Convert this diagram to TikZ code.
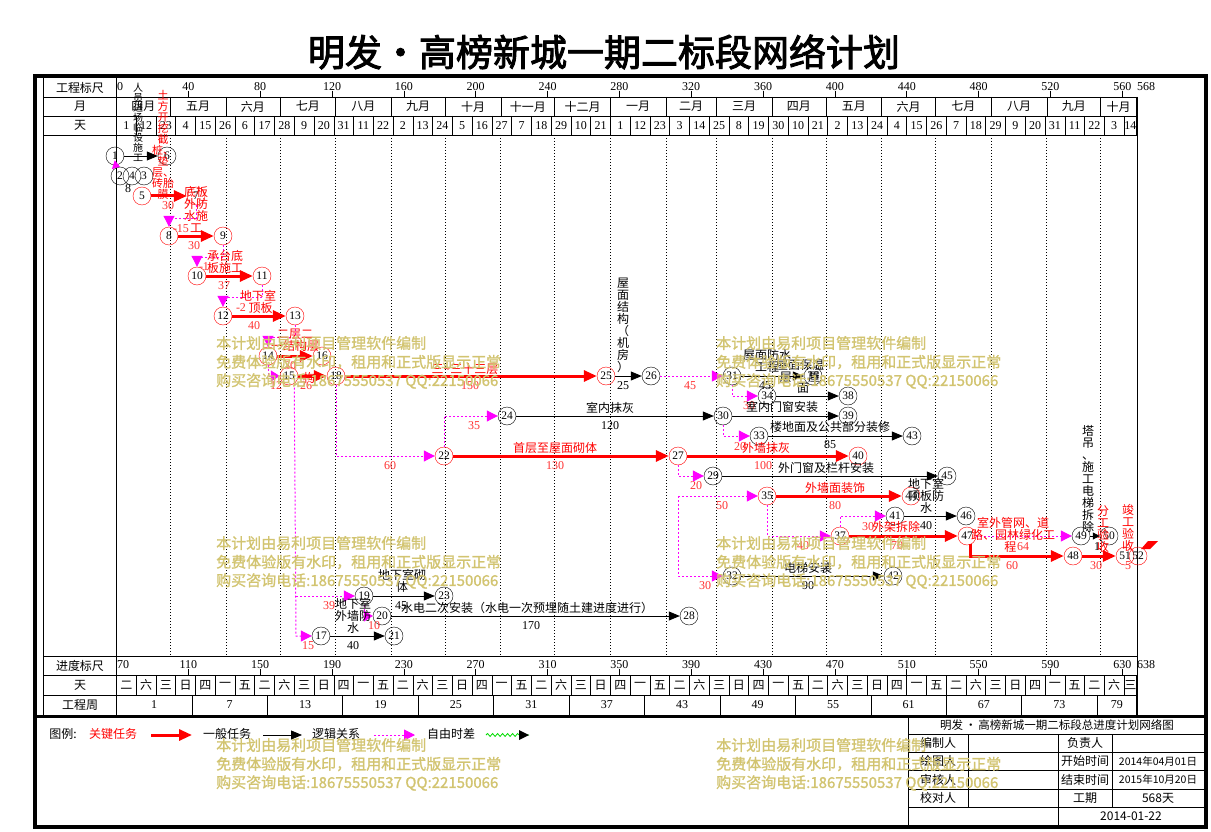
\documentclass[tikz,border=0pt]{standalone}
\usepackage{fontspec}
\setmainfont{Noto Sans CJK SC}
\newfontfamily\sr{Liberation Serif}
\newfontfamily\tb{Noto Sans CJK SC}[FakeBold=2.5]
\newfontfamily\wm{Noto Sans CJK SC}[FakeBold=1.2]
\usetikzlibrary{arrows.meta,decorations.pathmorphing,calc}
\definecolor{wmc}{RGB}{210,196,112}
\definecolor{lred}{RGB}{255,50,50}
\definecolor{mag}{RGB}{255,0,255}
\definecolor{grn}{RGB}{0,220,0}
\newcommand\fs[1]{\fontsize{#1}{#1}\selectfont}
\newcommand\wkn[1]{\ifcase#1 二\or 六\or 三\or 日\or 四\or 一\or 五\fi}
\begin{document}
\begin{tikzpicture}[x=1pt,y=-1pt,
  nd/.style={circle,draw,minimum size=18pt,inner sep=0pt,font=\sr\fs{11.5}},
  rn/.style={nd,draw=red},
  kn/.style={nd,draw=black},
  crit/.style={draw=red,line width=3pt,-{Triangle[length=13pt,width=11pt]}},
  gen/.style={draw=black,line width=0.8pt,-{Triangle[length=11pt,width=9pt]}},
  lnk/.style={draw=mag,line width=1pt,dash pattern=on 2pt off 2pt,-{Triangle[length=11pt,width=11pt,fill=mag]}},
  rt/.style={text=red,font=\fs{12},inner sep=0pt,align=center},
  kt/.style={text=black,font=\fs{12},inner sep=0pt,align=center},
  rnum/.style={text=lred,font=\sr\fs{12},inner sep=0pt},
  knum/.style={text=black,font=\sr\fs{12},inner sep=0pt},
  wmk/.style={text=wmc,font=\wm\fs{15},anchor=west,inner sep=0pt},
  hd/.style={font=\fs{12},inner sep=0pt},
  sn/.style={font=\sr\fs{12},inner sep=0pt},
  grid/.style={draw=black,line width=0.6pt},
  vgrid/.style={draw=black,line width=0.7pt,dash pattern=on 1pt off 2pt},
]
\useasboundingbox (0,0) rectangle (1211,832);
\fill[white] (0,0) rectangle (1211,832);

% title
\node[font=\tb\fs{37},inner sep=0pt] (title) at (604,52) {明发\makebox[37pt]{•}高榜新城一期二标段网络计划};

% frame
\draw[line width=4.5pt] (35,76) rectangle (1206,827);
\draw[line width=3pt] (35,716.5) -- (1206,716.5);
\draw[grid] (43,78) -- (43,715);
\draw[grid] (116,78) -- (116,715);
\draw[grid] (1137,97) -- (1137,715);
\foreach \yy in {97,116,135,656,675,695}{\draw[grid] (43,\yy) -- (1137,\yy);}

% left labels
\node[hd] (h1) at (80,87.5) {工程标尺};
\node[hd] (h2) at (80,106.5) {月};
\node[hd] (h3) at (80,125.5) {天};
\node[hd] (h4) at (80,665.5) {进度标尺};
\node[hd] (h5) at (80,685) {天};
\node[hd] (h6) at (80,705) {工程周};

% top and bottom scales
\foreach \v in {40,80,...,560}{
  \draw[grid] ({116.5+1.796*\v},91) -- ({116.5+1.796*\v},97);
  \node[sn] at ({116.5+1.796*\v},86.5) {\v};
  \draw[grid] ({116.5+1.796*\v},669) -- ({116.5+1.796*\v},675);
  \pgfmathtruncatemacro\w{\v+70}
  \node[sn] at ({116.5+1.796*\v},664.5) {\w};
}
\node[sn,anchor=west] (s0) at (117,86.5) {0};
\node[sn,anchor=west] (s568) at (1137,86.5) {568};
\node[sn,anchor=west] (b70) at (117,664.5) {70};
\node[sn,anchor=west] (b638) at (1137,664.5) {638};

% months
\foreach \a/\b/\m in {0/30/四月,30/61/五月,61/91/六月,91/122/七月,122/153/八月,153/183/九月,183/214/十月,214/244/十一月,244/275/十二月,275/306/一月,306/334/二月,334/365/三月,365/395/四月,395/426/五月,426/456/六月,456/487/七月,487/518/八月,518/548/九月,548/568/十月}{
  \draw[grid] ({116.5+1.796*\b},97) -- ({116.5+1.796*\b},116);
  \node[hd] at ({116.5+1.796*(\a+\b)/2},106.5) {\m};
}
\foreach \d in {30,61,91,122,153,183,214,244,275,306,334,365,395,426,456,487,518,548}{
  \draw[vgrid] ({116.5+1.796*\d},135) -- ({116.5+1.796*\d},656);
}
% days
\foreach \lab [count=\i from 0] in {1,12,23,4,15,26,6,17,28,9,20,31,11,22,2,13,24,5,16,27,7,18,29,10,21,1,12,23,3,14,25,8,19,30,10,21,2,13,24,4,15,26,7,18,29,9,20,31,11,22,3,14}{
  \pgfmathsetmacro\sa{11*\i}
  \pgfmathsetmacro\sb{min(11*\i+11,568)}
  \draw[grid] ({116.5+1.796*\sb},116) -- ({116.5+1.796*\sb},135);
  \node[sn] at ({116.5+1.796*(\sa+\sb)/2},125.5) {\lab};
  \draw[grid] ({116.5+1.796*\sb},675) -- ({116.5+1.796*\sb},695);
  \pgfmathtruncatemacro\k{mod(\i,7)}
  \node[hd] at ({116.5+1.796*(\sa+\sb)/2},685) {\wkn{\k}};
}
% weeks
\foreach \w [count=\i from 0] in {1,7,13,19,25,31,37,43,49,55,61,67,73,79}{
  \pgfmathsetmacro\sa{42*\i}
  \pgfmathsetmacro\sb{min(42*\i+42,568)}
  \draw[grid] ({116.5+1.796*\sb},695) -- ({116.5+1.796*\sb},715);
  \node[sn] at ({116.5+1.796*(\sa+\sb)/2},705) {\w};
}

% ---------- nodes ----------
\node[kn] (n1) at (115,156) {1};
\node[kn] (n6) at (167,156) {6};
\node[kn] (n2) at (120,176) {2};
\node[kn] (n4) at (132,176) {4};
\node[kn] (n3) at (144,176) {3};
\node[rn] (n5) at (142,196) {5};
\node[rn] (n7) at (196,196) {7};
\node[rn] (n8) at (169,236) {8};
\node[rn] (n9) at (223,236) {9};
\node[rn] (n10) at (197,276) {10};
\node[rn] (n11) at (262,276) {11};
\node[rn] (n12) at (223,316) {12};
\node[rn] (n13) at (295,316) {13};
\node[rn] (n14) at (268,356) {14};
\node[rn] (n16) at (322,356) {16};
\node[rn] (n15) at (289,376) {15};
\node[rn] (n18) at (336,376) {18};
\node[rn] (n25) at (606,376) {25};
\node[kn] (n26) at (651,376) {26};
\node[kn] (n31) at (732,376) {31};
\node[kn] (n36) at (813,376) {36};
\node[kn] (n34) at (767,396) {34};
\node[kn] (n38) at (848,396) {38};
\node[kn] (n24) at (507,416) {24};
\node[kn] (n30) at (723,416) {30};
\node[kn] (n39) at (848,416) {39};
\node[kn] (n33) at (759,436) {33};
\node[kn] (n43) at (912,436) {43};
\node[rn] (n22) at (444,456) {22};
\node[rn] (n27) at (678,456) {27};
\node[rn] (n40) at (858,456) {40};
\node[kn] (n29) at (713,476) {29};
\node[kn] (n45) at (947,476) {45};
\node[rn] (n35) at (767,496) {35};
\node[rn] (n44) at (911,496) {44};
\node[kn] (n41) at (895,516) {41};
\node[kn] (n46) at (966,516) {46};
\node[rn] (n37) at (840,536) {37};
\node[rn] (n47) at (967,536) {47};
\node[rn] (n48) at (1073,556) {48};
\node[kn] (n49) at (1081,536) {49};
\node[kn] (n50) at (1109,536) {50};
\node[rn] (n51) at (1125,556) {51};
\node[rn] (n52) at (1138,556) {52};
\node[kn] (n32) at (732,576) {32};
\node[kn] (n42) at (893,576) {42};
\node[kn] (n19) at (364,596) {19};
\node[kn] (n23) at (444,596) {23};
\node[kn] (n20) at (382,616) {20};
\node[kn] (n28) at (689,616) {28};
\node[kn] (n17) at (321,636) {17};
\node[kn] (n21) at (394,636) {21};

% ---------- critical ----------
\draw[crit] (n5) -- (n7);
\draw[crit] (n8) -- (n9);
\draw[crit] (n10) -- (n11);
\draw[crit] (n12) -- (n13);
\draw[crit] (n14) -- (n16);
\draw[crit] (n15) -- (n18);
\draw[crit] (n18) -- (n25);
\draw[crit] (n22) -- (n27);
\draw[crit] (n27) -- (n40);
\draw[crit] (n35) -- (n44);
\draw[crit] (n37) -- (n47);
\draw[crit] (n47.-65) |- (n48);
\draw[crit] (n48) -- (n51);
\fill[red] (1141,549) -- (1148,541) -- (1158,541) -- (1150,549) -- cycle;

% ---------- general ----------
\draw[gen] (n1) -- (n6);
\draw[gen] (n25) -- (n26);
\draw[gen] (n31) -- (n36);
\draw[gen] (n34) -- (n38);
\draw[gen] (n24) -- (n30);
\draw[gen] (n30) -- (n39);
\draw[gen] (n33) -- (n43);
\draw[gen] (n29) -- (n45);
\draw[gen] (n41) -- (n46);
\draw[gen] (n32) -- (n42);
\draw[gen] (n19) -- (n23);
\draw[gen] (n20) -- (n28);
\draw[gen] (n17) -- (n21);
\draw[gen,-{Triangle[length=7pt,width=7pt]}] (n49) -- (n50);

% ---------- logic links ----------
\draw[lnk,-{Triangle[length=7pt,width=9pt,fill=mag]}] (n1.south) -- (n2.north);
\draw[lnk] (n7.south) -- (196,218) -- (169,218) -- (n8.north);
\draw[lnk] (n9.south) -- (223,257) -- (197,257) -- (n10.north);
\draw[lnk] (n11.south) -- (262,297) -- (223,297) -- (n12.north);
\draw[lnk] (n13.south) -- (295,337) -- (268,337) -- (n14.north);
\draw[lnk,-{Triangle[length=9pt,width=11pt,fill=mag]}] (n14.south) -- (268,376) -- (n15.west);
\coordinate (v15) at (296,596);
\draw[lnk] (n15.-55) -- (296,636) -- (n17.west);
\draw[lnk] (v15) -- (n19.west);
\draw[lnk,-{Triangle[length=9pt,width=11pt,fill=mag]}] (n19.south) -- (364,616) -- (n20.west);
\draw[lnk] (n18.south) -- (336,456) -- (n22.west);
\draw[lnk] (n22.north) -- (444,416) -- (n24.west);
\draw[lnk] (n26) -- (n31);
\draw[lnk] (n31.south) -- (732,396) -- (n34.west);
\draw[lnk] (n30.south) -- (723,436) -- (n33.west);
\coordinate (v27a) at (678,496);
\draw[lnk] (n27.south) -- (678,476) -- (n29.west);
\draw[lnk] (v27a) -- (n35.west);
\draw[lnk] (v27a) -- (678,576) -- (n32.west);
\draw[lnk] (n35.south) -- (767,536) -- (n37.west);
\draw[lnk] (n37.north) -- (840,516) -- (n41.west);
\draw[lnk] (n47) -- (n49);

% ---------- labels ----------
\node[kt,font=\fs{10}] (l16) at (138,122) {人\\员\\进\\场\\临\\设\\施\\工};
\node[rt,font=\fs{11}] (l57) at (163,145) {土\\方\\开\\挖\\截\\桩、\\垫\\层、\\砖胎\\膜};
\node[knum] (l8) at (128,189) {8};
\node[rnum] (d57) at (168,206) {30};
\node[rt] (l89) at (196,209.5) {底板\\外防\\水施\\工};
\node[rnum] (f78) at (181,229) {-15};
\node[rnum] (d89) at (194,246) {30};
\node[rnum] (f910) at (204,267) {-1};
\node[rt] (l1011) at (225,262) {承台底\\板施工};
\node[rnum] (d1011) at (224,286) {37};
\node[rnum] (f1112) at (241,308) {-2};
\node[rt] (l1213) at (258,302) {地下室\\\ \ 顶板};
\node[rnum] (d1213) at (254,326) {40};
\node[rt] (l1416) at (295,340) {二层二\\一结构层};
\node[rnum] (d1416) at (290,366) {30};
\node[rt] (l1518) at (309,378) {构};
\node[rnum] (f1415) at (276,386) {12};
\node[rnum] (d1518) at (306,386) {26};
\node[rt] (l1825) at (465,369) {三\textasciitilde 三十三层};
\node[rnum] (d1825) at (470,386) {150};
\node[rnum] (f1822) at (390,466) {60};
\node[rnum] (f2224) at (474,426) {35};
\node[rt] (l2227) at (555,448) {首层至屋面砌体};
\node[rnum] (d2227) at (555,466) {130};
\node[kt] (l2526) at (623,325) {屋\\面\\结\\构\\（\\机\\房\\）};
\node[knum] (d2526) at (623,386) {25};
\node[rnum] (f2631) at (690,386) {45};
\node[kt] (l2430) at (610,408) {室内抹灰};
\node[knum] (d2430) at (610,426) {120};
\node[kt] (l3136) at (767,361) {屋面防水\\工程};
\node[kt] (l3438) at (800,371) {屋面保温\\层\ \ \ \ \ \ 屋};
\node[kt] (l3438b) at (803,388) {面};
\node[knum] (d3136) at (765,386) {45};
\node[rnum] (f3134) at (749,406) {30};
\node[kt] (l3039) at (782,407) {室内门窗安装};
\node[kt] (l3343) at (830,427) {楼地面及公共部分装修};
\node[knum] (d3343) at (830,445) {85};
\node[rnum] (f3033) at (740,447) {20};
\node[rt] (l2740) at (766,448) {外墙抹灰};
\node[rnum] (d2740) at (763,466) {100};
\node[kt] (l2945) at (826,468) {外门窗及栏杆安装};
\node[rnum] (f2729) at (696,486) {20};
\node[rt] (l3544) at (835,488) {外墙面装饰};
\node[rnum] (d3544) at (835,506) {80};
\node[rnum] (f2735) at (722,506) {50};
\node[kt] (l4146) at (926,495.5) {地下室\\顶板防\\水};
\node[knum] (d4146) at (926,526) {40};
\node[rnum] (f3741) at (868,527) {30};
\node[rt] (l3747) at (896,527) {外架拆除};
\node[rnum] (f3537) at (803,546) {40};
\node[rnum] (d3747) at (897,546) {70};
\node[rt] (l4748) at (1013,535) {室外管网、道\\路、园林绿化工\\程\ \ \ };
\node[rnum] (f4749) at (1023,547) {64};
\node[rnum] (d4748) at (1012,566) {60};
\node[kt] (l4950) at (1088,479) {塔\\吊\\、\\施\\工\\电\\梯\\拆\\除};
\node[knum] (d4950) at (1097,547) {1};
\node[rt] (l4851) at (1103,529) {分\\工\\验\\收};
\node[rnum] (d4851) at (1096,566) {30};
\node[rt] (l5152) at (1128,528) {竣\\工\\验\\收};
\node[rnum] (d5152) at (1128,566) {5};
\node[kt] (l3242) at (808,568) {电梯安装};
\node[knum] (d3242) at (808,586) {90};
\node[rnum] (f2732) at (705,586) {30};
\node[kt] (l1923) at (402,581) {地下室砌\\体};
\node[knum] (d1923) at (401,606) {45};
\node[rnum] (f1519) at (329,606) {39};
\node[kt] (l2028) at (527,608) {水电二次安装（水电一次预埋随土建进度进行）};
\node[knum] (d2028) at (531,626) {170};
\node[rnum] (f1920) at (374,626) {10};
\node[kt] (l1721) at (353,615.5) {地下室\\外墙防\\水};
\node[rnum] (f1517) at (308,646) {15};
\node[knum] (d1721) at (353,646) {40};

% ---------- legend ----------
\node[hd] (lg0) at (63,734) {图例:};
\node[hd,text=red] (lg1) at (113,734) {关键任务};
\draw[crit] (151,735) -- (192,735);
\node[hd] (lg2) at (227,734) {一般任务};
\draw[gen] (263,735) -- (302,735);
\node[hd] (lg3) at (336,734) {逻辑关系};
\draw[lnk] (374,735) -- (415,735);
\node[hd] (lg4) at (451,734) {自由时差};
\draw[grn,line width=0.8pt,decorate,decoration={snake,amplitude=1.5pt,segment length=5pt,post length=8pt}] (486,735) -- (529,735);
\fill[black] (519,730) -- (529,735) -- (519,740) -- cycle;

% ---------- title block ----------
\draw[grid] (908,717) -- (908,825);
\foreach \yy in {734,752,770,789,807}{\draw[grid] (908,\yy) -- (1204,\yy);}
\draw[grid] (968,734) -- (968,807);
\draw[grid] (1058,734) -- (1058,825);
\draw[grid] (1112,734) -- (1112,807);
\node[hd,font=\fs{11.5}] (tb0) at (1057,725.5) {明发\,•\,高榜新城一期二标段总进度计划网络图};
\node[hd] (tb1) at (938,743) {编制人};
\node[hd] (tb2) at (1085,743) {负责人};
\node[hd] (tb3) at (938,761) {绘图人};
\node[hd] (tb4) at (1085,761) {开始时间};
\node[hd,font=\fs{10.5}] (tb5) at (1158,761) {2014年04月01日};
\node[hd] (tb6) at (938,779.5) {审核人};
\node[hd] (tb7) at (1085,779.5) {结束时间};
\node[hd,font=\fs{10.5}] (tb8) at (1158,779.5) {2015年10月20日};
\node[hd] (tb9) at (938,798) {校对人};
\node[hd] (tb10) at (1085,798) {工期};
\node[hd] (tb11) at (1158,798) {568天};
\node[hd] (tb12) at (1131,816) {2014-01-22};

% ---------- watermarks ----------
\foreach \wx/\wy [count=\j] in {216/343,716/343,216/543,716/543,216/745,716/745}{
  \node[wmk] (wa\j) at (\wx,\wy) {本计划由易利项目管理软件编制};
  \node[wmk] (wb\j) at (\wx,\wy+19) {免费体验版有水印，租用和正式版显示正常};
  \node[wmk] (wc\j) at (\wx,\wy+38) {购买咨询电话:18675550537 QQ:22150066};
}
\end{tikzpicture}
\end{document}
